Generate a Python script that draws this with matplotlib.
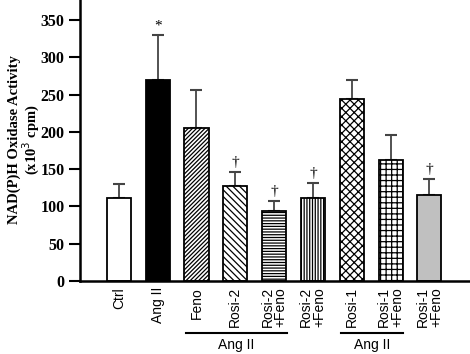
import numpy as np
import matplotlib
matplotlib.use("Agg")
import matplotlib.pyplot as plt

labels = ["Ctrl", "Ang II", "Feno", "Rosi-2", "Rosi-2\n+Feno", "Rosi-2\n+Feno",
          "Rosi-1", "Rosi-1\n+Feno", "Rosi-1\n+Feno"]
means = [112, 270, 205, 128, 94, 111, 244, 162, 116]
errors = [18, 60, 51, 18, 14, 20, 25, 34, 21]
marks = ["", "*", "", "\u2020", "\u2020", "\u2020", "", "", "\u2020"]
colors = ["white", "black", "white", "white", "white", "white", "white", "white", "#c0c0c0"]
hatches = ["", "", "////////", "\\\\\\\\\\", "------", "||||||", "xxxx", "+++", ""]
groups = [(2, 4, "Ang II"), (6, 7, "Ang II")]

plt.rcParams["hatch.linewidth"] = 0.9

fig = plt.figure(figsize=(4.7, 3.54), dpi=100)
ax = fig.add_axes([80 / 470, 1 - 281 / 354, 389 / 470, 281 / 354])

x = np.arange(len(means))
for i in range(len(means)):
    ax.bar(x[i], means[i], width=0.62, color=colors[i], edgecolor="black",
           linewidth=1.3, hatch=hatches[i], zorder=2)
    ax.errorbar(x[i], means[i], yerr=[[0], [errors[i]]], fmt="none",
                ecolor="#444444", elinewidth=1.3, capsize=4, capthick=1.5, zorder=1)
    if marks[i]:
        ax.text(x[i], means[i] + errors[i] + 4, marks[i], ha="center", va="bottom",
                fontsize=11, family="Liberation Serif")

ax.set_xlim(-1.0, 9.02)
ax.set_ylim(0, 377)
ax.set_yticks(np.arange(0, 351, 50))
ax.set_yticklabels([str(v) for v in range(0, 351, 50)], family="Liberation Serif",
                   fontweight="bold", fontsize=11.5)
ax.set_xticks([])
ax.spines["top"].set_visible(False)
ax.spines["right"].set_visible(False)
ax.spines["left"].set_linewidth(1.8)
ax.spines["bottom"].set_linewidth(1.8)
ax.tick_params(axis="y", direction="out", length=8, width=1.5, pad=3)

for i, lab in enumerate(labels):
    ax.text(x[i], -8, lab, rotation=90, ha="center", va="top", multialignment="right",
            fontsize=10, family="Liberation Sans", linespacing=0.95,
            transform=ax.transData, clip_on=False)

for a, b, txt in groups:
    ax.plot([a - 0.27, b + 0.33], [-70, -70], color="black", lw=1.5, clip_on=False)
    ax.text((a + b) / 2 + 0.03, -76, txt, ha="center", va="top", fontsize=10,
            family="Liberation Sans")

fig.text(25 / 470, 1 - 140 / 354, "NAD(P)H Oxidase Activity\n(x10$^3$ cpm)",
         rotation=90, ha="center", va="center", family="Liberation Serif",
         fontweight="bold", fontsize=10.5, linespacing=1.0)

fig.savefig("out.png", dpi=100)
